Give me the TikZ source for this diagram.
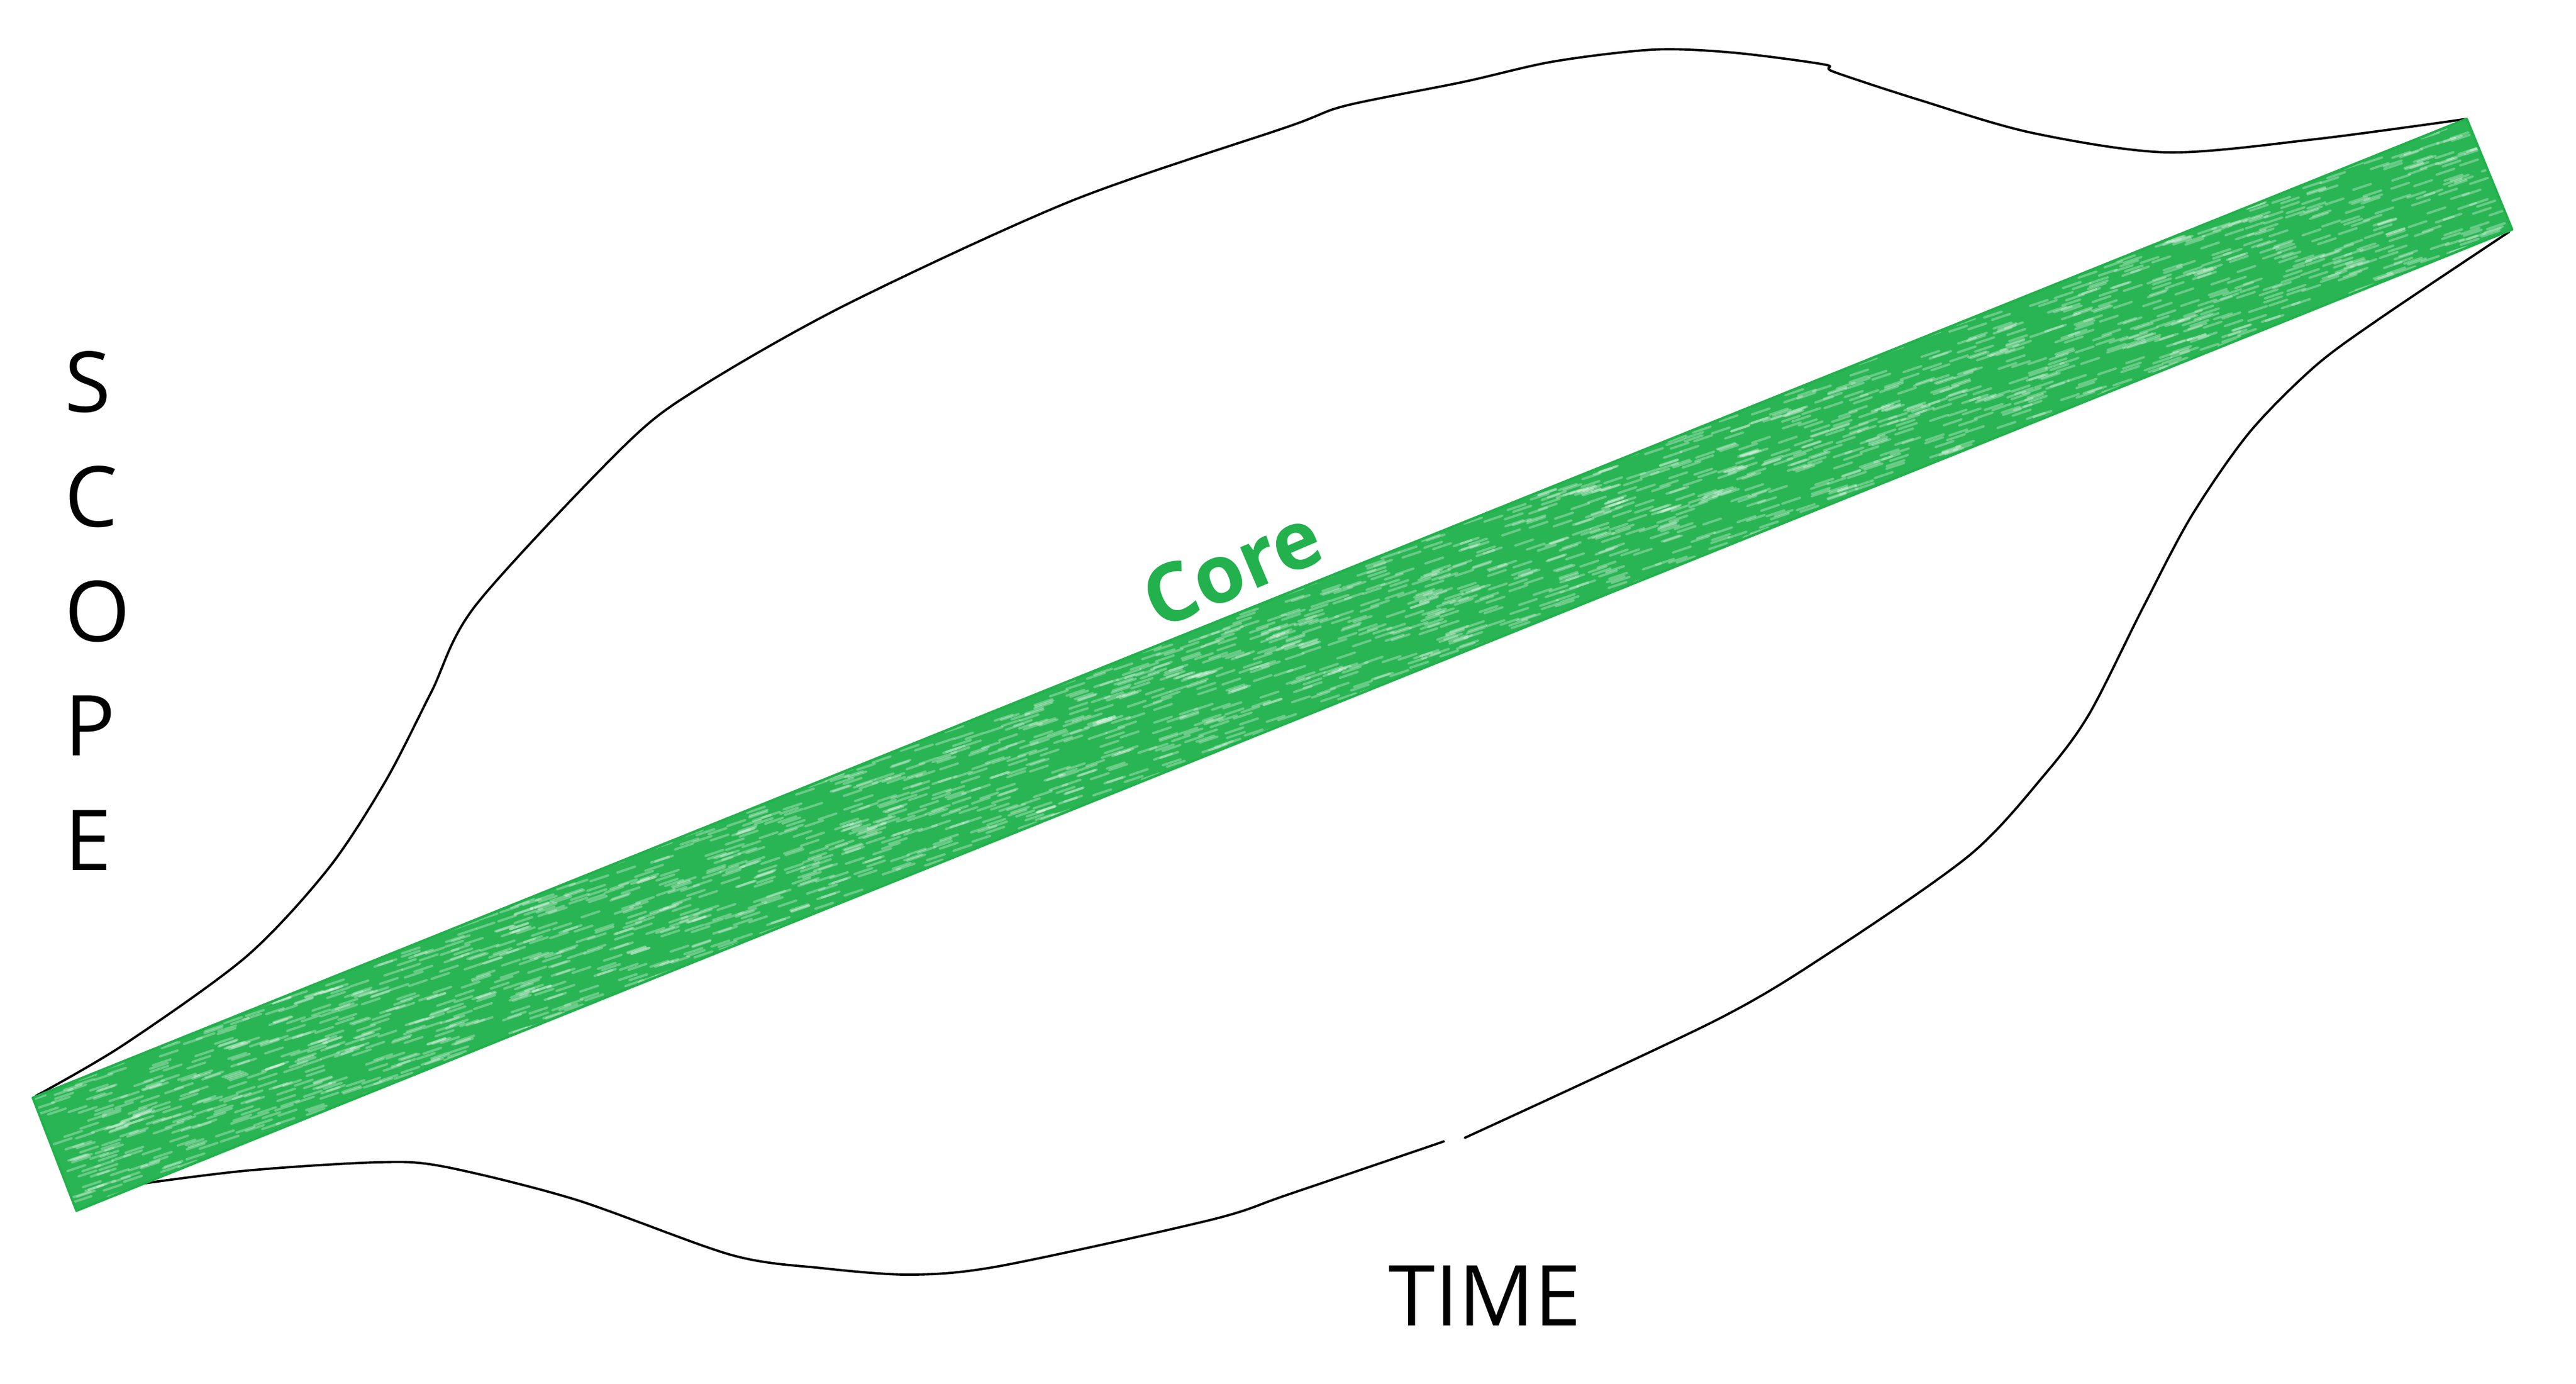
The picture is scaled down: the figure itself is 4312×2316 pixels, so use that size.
\documentclass[tikz,border=0pt]{standalone}
\usepackage{fontspec}
\setmainfont{Open Sans}
\usetikzlibrary{positioning}
\definecolor{coregreen}{RGB}{34,177,76}
\definecolor{corefill}{RGB}{42,181,84}

\begin{document}
\begin{tikzpicture}[
    x=0.01cm, y=-0.01cm,
    outline/.style={draw=black, line width=1.1pt, line cap=round, line join=round},
    band/.style={draw=coregreen, line width=1.2pt, line join=round},
    streak/.style={draw=white, opacity=0.3, line width=1.1pt, line cap=round},
    axislabel/.style={inner sep=0pt, font=\fontsize{40}{48}\selectfont},
    corelabel/.style={inner sep=0pt, text=coregreen, font=\fontsize{38.5}{46}\selectfont\bfseries}
]
\useasboundingbox (0,0) rectangle (4312,2316);

% Corners of the core band
\coordinate (coreTL) at (55,1837);
\coordinate (coreTR) at (4129,199);
\coordinate (coreBR) at (4205,384);
\coordinate (coreBL) at (128,2026);

% Outline
\draw[outline] plot[smooth, tension=0.5] coordinates {(60,1834) (206,1749) (412,1601)
    (550,1453) (646,1306) (722,1158) (797,1012) (1045,746) (1169,650) (1416,510)
    (1794,336) (2156,212) (2252,177) (2450,137) (2600,103) (2768,83) (2900,88)
    (3054,108) (3069,120) (3212,167) (3400,222) (3627,255) (3875,233) (4129,199)};
\draw[outline] plot[smooth, tension=0.5] coordinates {(4200,388) (3985,532) (3875,613)
    (3765,724) (3668,864) (3586,1019) (3497,1195) (3421,1298) (3297,1431) (3063,1594)
    (2871,1708) (2452,1904)};
\draw[outline] plot[smooth, tension=0.5] coordinates {(2417,1910) (2156,1999) (2028,2041)
    (1677,2118) (1526,2133) (1375,2122) (1224,2100) (962,2007) (742,1952) (632,1945)
    (412,1959) (206,1985) (124,1998)};

% Core band
\fill[corefill] (coreTL) -- (coreTR) -- (coreBR) -- (coreBL) -- cycle;
\begin{scope}
  \clip (coreTL) -- (coreTR) -- (coreBR) -- (coreBL) -- cycle;
  \pgfmathsetseed{11}
  \foreach \k in {1,...,2600}{
    \pgfmathsetmacro{\ta}{rnd}
    \pgfmathsetmacro{\sa}{rnd}
    \draw[streak] ({40+4074*\ta+90*\sa},{1830-1638*\ta+200*\sa}) -- ++(30,-10);
  }
\end{scope}
\draw[band] (coreTL) -- (coreTR) -- (coreBR) -- (coreBL) -- cycle;

% Labels
\foreach \ch [count=\i] in {S,C,O,P,E}
  \node[axislabel, anchor=base west] (scope\i) at (108,{690+191.5*(\i-1)}) {\ch};
\node[axislabel, anchor=base] (time) at (2486,2218) {TIME};
\node[corelabel, rotate=23] (core) at (2062,950) {Core};

\end{tikzpicture}
\end{document}
